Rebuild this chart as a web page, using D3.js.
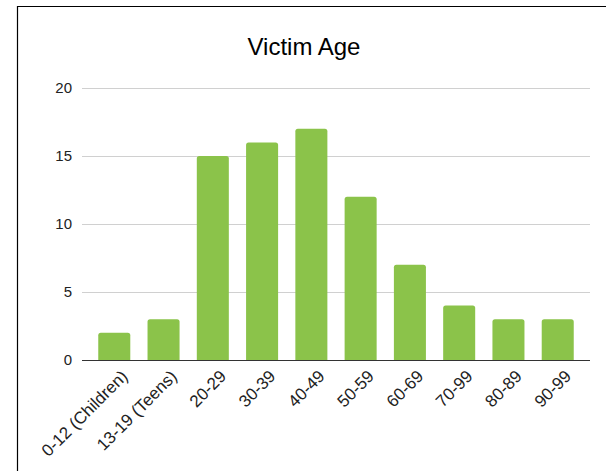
<!DOCTYPE html>
<meta charset="utf-8">
<style>
body { margin: 0; background: #fff; }
text { font-family: "Liberation Sans", Arial, sans-serif; fill: #222; }
.grid line { stroke: #d0d0d0; stroke-width: 1px; }
</style>
<svg width="606" height="471"></svg>
<script src="https://d3js.org/d3.v7.min.js"></script>
<script>

var ageGroups = ["0-12 (Children)", "13-19 (Teens)", "20-29", "30-39", "40-49",
                 "50-59", "60-69", "70-99", "80-89", "90-99"];
var victims = [2, 3, 15, 16, 17, 12, 7, 4, 3, 3];
var yTicks = [0, 5, 10, 15, 20];

var svg = d3.select("svg"),
    plotLeft = 82, plotRight = 590, plotTop = 88, plotBottom = 360;

// frame lines (top + left only)
svg.append("line").attr("x1", 17).attr("x2", 606).attr("y1", 6.5).attr("y2", 6.5)
    .style("stroke", "#000").style("stroke-width", 1.2);
svg.append("line").attr("x1", 17.5).attr("x2", 17.5).attr("y1", 6).attr("y2", 471)
    .style("stroke", "#000").style("stroke-width", 1.2);

svg.append("text")
    .attr("x", 304).attr("y", 55)
    .attr("text-anchor", "middle")
    .style("font-size", "24px")
    .style("fill", "#000")
    .text("Victim Age");

var x = d3.scaleBand().domain(ageGroups).range([plotLeft, plotRight])
    .paddingInner(0.35).paddingOuter(0.33);
var y = d3.scaleLinear().domain([0, 20]).range([plotBottom, plotTop]);

var grid = svg.append("g").attr("class", "grid");
grid.selectAll("line")
    .data(yTicks.filter(function(d) { return d > 0; }))
  .enter().append("line")
    .attr("x1", plotLeft).attr("x2", plotRight)
    .attr("y1", function(d) { return Math.round(y(d)) + 0.5; })
    .attr("y2", function(d) { return Math.round(y(d)) + 0.5; });

svg.selectAll(".ylab")
    .data(yTicks)
  .enter().append("text")
    .attr("class", "ylab")
    .attr("x", 72)
    .attr("y", function(d) { return y(d); })
    .attr("dy", "0.35em")
    .attr("text-anchor", "end")
    .style("font-size", "15px")
    .text(function(d) { return d; });

// bars with slightly rounded tops
var r = 2.5;
svg.selectAll(".bar")
    .data(victims)
  .enter().append("path")
    .attr("class", "bar")
    .attr("fill", "#8bc34a")
    .attr("d", function(d, i) {
      var x0 = x(ageGroups[i]), w = x.bandwidth(), y0 = y(d);
      return "M" + x0 + "," + plotBottom +
             "V" + (y0 + r) +
             "Q" + x0 + "," + y0 + " " + (x0 + r) + "," + y0 +
             "H" + (x0 + w - r) +
             "Q" + (x0 + w) + "," + y0 + " " + (x0 + w) + "," + (y0 + r) +
             "V" + plotBottom + "Z";
    });

svg.append("line")
    .attr("x1", plotLeft).attr("x2", plotRight)
    .attr("y1", plotBottom + 0.5).attr("y2", plotBottom + 0.5)
    .style("stroke", "#333").style("stroke-width", 1.2);

svg.selectAll(".xlab")
    .data(ageGroups)
  .enter().append("text")
    .attr("class", "xlab")
    .attr("text-anchor", "end")
    .attr("transform", function(d) {
      return "translate(" + (x(d) + x.bandwidth() / 2 + 6) + "," + (plotBottom + 9) + ") rotate(-45)";
    })
    .attr("dy", "0.7em")
    .style("font-size", "17px")
    .text(function(d) { return d; });

</script>
